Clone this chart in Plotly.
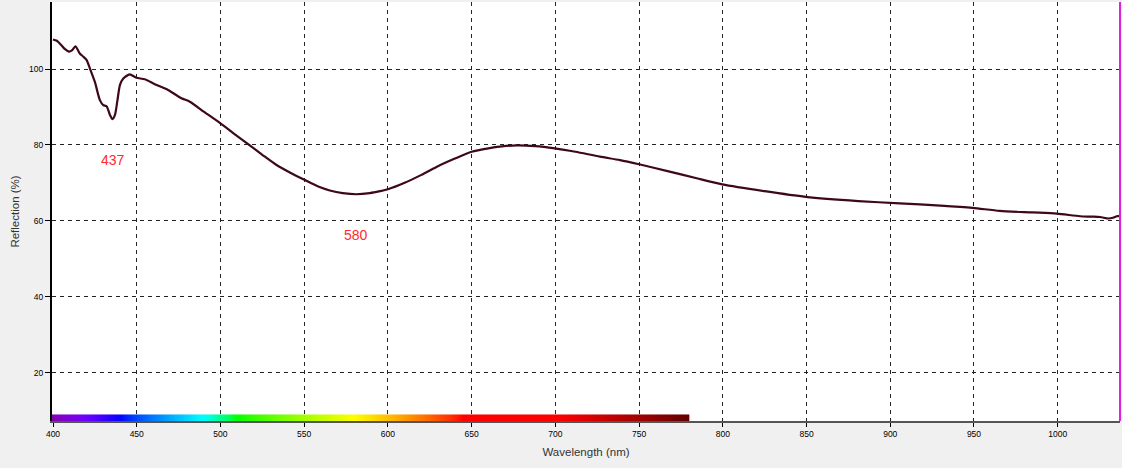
import numpy as np
import plotly.graph_objects as go

# ---- data ----
wavelength = [400, 402, 403, 405, 407, 409.5, 411.5, 413.4, 416, 418, 420, 422, 425, 428, 430, 432,
              434, 435.5, 437, 438.5, 440, 442, 445.8, 449.8, 454.8, 460.8, 468.7, 476.7, 481.7,
              490, 500, 508, 516.5, 525, 533.5, 542, 550.2, 558, 565.3, 573, 581.2, 589.2, 595.2,
              600, 610, 620, 629, 640, 650, 660, 668, 676.8, 688, 699.7, 712, 726.6, 738.6, 750,
              767, 784.4, 799.7, 825, 849.5, 880.9, 905.7, 930, 949.2, 965.4, 985, 999.4, 1013.3,
              1020, 1025.3, 1030.3, 1033, 1035.3, 1037.2]
reflection = [107.8, 107.5, 107.2, 106.3, 105.3, 104.6, 105.0, 106.0, 104.1, 103.3, 102.4, 100.2,
              96.6, 91.8, 90.5, 90.2, 87.9, 86.8, 87.9, 91.8, 95.8, 97.5, 98.6, 97.7, 97.3, 96.0,
              94.5, 92.3, 91.4, 88.8, 85.7, 83.0, 80.2, 77.4, 74.7, 72.6, 70.8, 69.1, 68.0, 67.3,
              67.0, 67.3, 67.8, 68.3, 70.0, 72.1, 74.2, 76.4, 78.2, 79.1, 79.6, 79.9, 79.7, 79.1,
              78.2, 76.9, 76.0, 74.9, 73.1, 71.2, 69.6, 67.8, 66.3, 65.2, 64.6, 64.0, 63.4, 62.6,
              62.2, 61.9, 61.2, 61.1, 61.0, 60.6, 60.8, 61.2, 61.3]

peak_labels = ["437", "580"]
peak_label_x = [435.7, 581.2]
peak_label_y = [76.0, 56.2]

x_ticks = list(range(400, 1001, 50))
y_ticks = [20, 40, 60, 80, 100]

spectrum_start, spectrum_end = 399, 780
x_range = [399.4, 1037.2]
y_range = [7.23, 117.67]


# ---- visible spectrum colour bar ----
def wl_rgb(w):
    if w < 440:
        r, g, b = -(w - 440) / 60, 0.0, 1.0
    elif w < 490:
        r, g, b = 0.0, (w - 440) / 50, 1.0
    elif w < 510:
        r, g, b = 0.0, 1.0, -(w - 510) / 20
    elif w < 580:
        r, g, b = (w - 510) / 70, 1.0, 0.0
    elif w < 645:
        r, g, b = 1.0, -(w - 645) / 65, 0.0
    else:
        r, g, b = 1.0, 0.0, 0.0
    if w < 420:
        f = 0.3 + 0.7 * (w - 380) / 40
    elif w > 700:
        f = 0.3 + 0.7 * (780 - w) / 80
    else:
        f = 1.0
    conv = lambda c: int(round(255 * (c * f) ** 0.8)) if c > 0 else 0
    return "rgb(%d,%d,%d)" % (conv(r), conv(g), conv(b))


stops = np.arange(spectrum_start, spectrum_end + 1, 3)
colorscale = [[(w - spectrum_start) / (spectrum_end - spectrum_start), wl_rgb(w)] for w in stops]
if colorscale[-1][0] < 1:
    colorscale.append([1.0, wl_rgb(spectrum_end)])

x_edges = np.arange(spectrum_start, spectrum_end + 1, 1.0)
z_row = [(x_edges[:-1] + x_edges[1:]) / 2]

fig = go.Figure()
fig.add_trace(go.Heatmap(
    x=x_edges, y=[y_range[0], 8.95], z=z_row,
    colorscale=colorscale, zmin=spectrum_start, zmax=spectrum_end,
    showscale=False, hoverinfo="skip", zsmooth=False,
))
fig.add_trace(go.Scatter(
    x=wavelength, y=reflection, mode="lines",
    line=dict(color="#3e0818", width=2.2, shape="spline", smoothing=0.7),
    showlegend=False,
))

for t, ax, ay in zip(peak_labels, peak_label_x, peak_label_y):
    fig.add_annotation(x=ax, y=ay, text=t, showarrow=False,
                       font=dict(family="Liberation Sans, Arial", size=14, color="#ff2a2a"))

fig.add_shape(type="line", xref="paper", yref="paper", x0=1, x1=1, y0=0, y1=1,
              line=dict(color="#e020e0", width=2))

tick_font = dict(family="Liberation Sans, Arial", size=8.5, color="#000000")
title_font = dict(family="Liberation Sans, Arial", size=11.5, color="#333333")

fig.update_layout(
    width=1122, height=468,
    margin=dict(l=52, r=2, t=2, b=47),
    paper_bgcolor="#f0f0f0", plot_bgcolor="#ffffff",
    showlegend=False,
    xaxis=dict(
        range=x_range, tickvals=x_ticks, ticktext=[str(v) for v in x_ticks],
        showgrid=True, gridcolor="#222222", gridwidth=1, griddash="4px,4px",
        zeroline=False, showline=True, linecolor="#555555", linewidth=2,
        ticks="outside", ticklen=4, tickcolor="#000000", tickfont=tick_font,
        title=dict(text="Wavelength (nm)", font=title_font, standoff=10),
        automargin=False,
    ),
    yaxis=dict(
        range=y_range, tickvals=y_ticks, ticktext=[str(v) for v in y_ticks],
        showgrid=True, gridcolor="#222222", gridwidth=1, griddash="4px,4px",
        zeroline=False, showline=True, linecolor="#000000", linewidth=2,
        ticks="outside", ticklen=5, tickcolor="#000000", tickfont=tick_font,
        title=dict(text="Reflection (%)", font=title_font, standoff=7),
        automargin=False,
    ),
)

fig.write_html(
    "out.html",
    config={"displayModeBar": False},
    post_script="document.body.style.margin='0';document.body.style.padding='0';"
                "document.body.style.overflow='hidden';"
                "document.documentElement.style.overflow='hidden';",
)
